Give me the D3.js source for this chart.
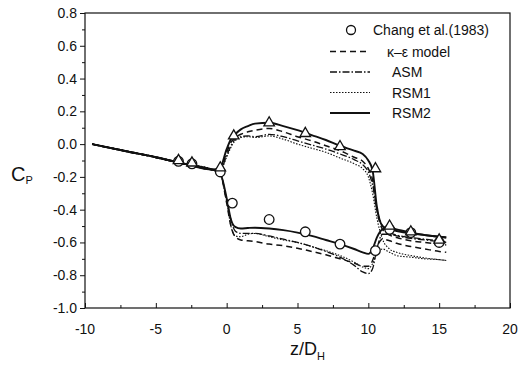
<!DOCTYPE html>
<html><head><meta charset="utf-8">
<script src="https://cdn.jsdelivr.net/npm/d3@7"></script>
<style>body{margin:0;background:#fff}svg{display:block}text{font-family:Arial,"Liberation Sans",sans-serif;fill:#111}</style>
</head><body><svg id="c" width="530" height="373"></svg>
<script>
// ---- data ----
const z = [-9.5,-7,-5,-3,-1,-0.5,0,0.3,0.6,1,1.5,2,3,4,5,6,7,8,9,9.6,10,10.3,10.6,11,11.5,12,13,14,15,15.5];
const rsm2Upper = [0,-0.045,-0.08,-0.12,-0.155,-0.15,-0.03,0.03,0.06,0.09,0.11,0.125,0.13,0.11,0.085,0.055,0.025,-0.01,-0.04,-0.06,-0.1,-0.16,-0.38,-0.5,-0.52,-0.53,-0.545,-0.555,-0.565,-0.57];
const rsm2Lower = [0,-0.045,-0.08,-0.12,-0.155,-0.17,-0.33,-0.46,-0.505,-0.515,-0.512,-0.51,-0.515,-0.525,-0.54,-0.56,-0.585,-0.61,-0.64,-0.66,-0.67,-0.64,-0.57,-0.52,-0.51,-0.52,-0.54,-0.555,-0.565,-0.57];
const keUpper = [0,-0.045,-0.08,-0.12,-0.157,-0.16,-0.05,0.01,0.04,0.06,0.075,0.085,0.095,0.075,0.045,0.02,-0.01,-0.04,-0.08,-0.105,-0.15,-0.22,-0.4,-0.52,-0.555,-0.57,-0.59,-0.6,-0.61,-0.615];
const keLower = [0,-0.045,-0.08,-0.12,-0.157,-0.17,-0.36,-0.5,-0.565,-0.585,-0.59,-0.595,-0.61,-0.62,-0.635,-0.655,-0.675,-0.7,-0.725,-0.745,-0.745,-0.71,-0.63,-0.58,-0.59,-0.605,-0.625,-0.64,-0.655,-0.66];
const asmUpper = [0,-0.045,-0.082,-0.122,-0.158,-0.165,-0.07,-0.01,0.03,0.045,0.05,0.045,0.06,0.045,0.02,-0.005,-0.03,-0.06,-0.095,-0.125,-0.17,-0.25,-0.4,-0.5,-0.54,-0.555,-0.57,-0.58,-0.59,-0.595];
const asmLower = [0,-0.045,-0.082,-0.122,-0.158,-0.17,-0.34,-0.46,-0.53,-0.545,-0.545,-0.545,-0.56,-0.58,-0.6,-0.625,-0.655,-0.69,-0.74,-0.78,-0.79,-0.76,-0.64,-0.55,-0.55,-0.56,-0.575,-0.585,-0.595,-0.6];
const rsm1Upper = [0,-0.043,-0.078,-0.118,-0.153,-0.165,-0.08,-0.02,0.02,0.04,0.045,0.04,0.05,0.03,0.0,-0.025,-0.05,-0.085,-0.12,-0.15,-0.2,-0.3,-0.45,-0.58,-0.64,-0.66,-0.68,-0.695,-0.705,-0.71];
const rsm1Lower = [0,-0.043,-0.078,-0.118,-0.153,-0.17,-0.35,-0.5,-0.56,-0.565,-0.55,-0.545,-0.565,-0.585,-0.6,-0.625,-0.65,-0.68,-0.72,-0.75,-0.76,-0.73,-0.67,-0.64,-0.66,-0.68,-0.69,-0.7,-0.705,-0.71];
const circZ  = [-3.4,-2.45,-0.45,0.4,3.0,5.55,8.0,10.5,11.5,13,15];
const circCp = [-0.105,-0.12,-0.17,-0.36,-0.46,-0.535,-0.61,-0.65,-0.52,-0.54,-0.6];
const triZ  = [-3.4,-2.45,-0.45,0.5,3.0,5.55,8.0,10.5,11.5,13,15];
const triCp = [-0.1,-0.115,-0.145,0.05,0.13,0.065,-0.015,-0.15,-0.5,-0.535,-0.585];
const xTicks = [-10,-5,0,5,10,15,20];
const yTicks = [0.8,0.6,0.4,0.2,0.0,-0.2,-0.4,-0.6,-0.8,-1.0];
const legendLabels = ["Chang et al.(1983)","\u03BA\u2013\u03B5 model","ASM","RSM1","RSM2"];

// ---- chart ----
const svg = d3.select("#c");
const L=85,R=510,T=13,B=308;
const x = d3.scaleLinear().domain([-10,20]).range([L,R]);
const y = d3.scaleLinear().domain([-1,0.8]).range([B,T]);
const ink="#111";

// frame
svg.append("rect").attr("x",L).attr("y",T).attr("width",R-L).attr("height",B-T)
  .attr("fill","none").attr("stroke",ink).attr("stroke-width",1.2);

// x axis (ticks inward)
const xa = svg.append("g").attr("transform",`translate(0,${B})`)
  .call(d3.axisBottom(x).tickValues(d3.range(-10,20.01,2.5)).tickSize(-5).tickFormat(""));
xa.select(".domain").remove();
xa.selectAll("line").attr("stroke",ink);
xa.selectAll(".tick line").filter(d=>d%5!==0).attr("y2",-3);
svg.selectAll(".xl").data(xTicks).enter().append("text")
  .attr("x",d=>x(d)).attr("y",B+26).attr("text-anchor","middle")
  .attr("font-size",14).text(d=>d);

// y axis (ticks outward)
const ya = svg.append("g").attr("transform",`translate(${L},0)`)
  .call(d3.axisLeft(y).tickValues(d3.range(-1,0.801,0.1)).tickSize(5).tickFormat(""));
ya.select(".domain").remove();
ya.selectAll("line").attr("stroke",ink);
ya.selectAll(".tick line").filter(d=>Math.abs(Math.round(d*10))%2===1).attr("x2",-3);
svg.selectAll(".yl").data(yTicks).enter().append("text")
  .attr("x",L-8).attr("y",d=>y(d)+5).attr("text-anchor","end")
  .attr("font-size",14).text(d=>d.toFixed(1));

// axis titles
const yt = svg.append("text").attr("x",11).attr("y",181).attr("font-size",20);
yt.append("tspan").text("C");
yt.append("tspan").attr("font-size",11).attr("dy",3).text("P");
const xt = svg.append("text").attr("x",290).attr("y",355).attr("font-size",18);
xt.append("tspan").text("z/D");
xt.append("tspan").attr("font-size",11).attr("dy",5).text("H");

// lines
const styles = {
  ke:  {dash:"6,4", w:1.5},
  asm: {dash:"7,2,1.5,2", w:1.3},
  rsm1:{dash:"1.5,1.5", w:1.1},
  rsm2:{dash:null, w:1.9}
};
const series = [
  ["rsm1",rsm1Upper],["rsm1",rsm1Lower],
  ["asm",asmUpper],["asm",asmLower],
  ["ke",keUpper],["ke",keLower],
  ["rsm2",rsm2Upper],["rsm2",rsm2Lower]
];
const line = d3.line().x((d,i)=>x(z[i])).y(d=>y(d)).curve(d3.curveMonotoneX);
series.forEach(([k,vals])=>{
  svg.append("path").datum(vals).attr("d",line).attr("fill","none")
    .attr("stroke",ink).attr("stroke-width",styles[k].w)
    .attr("stroke-dasharray",styles[k].dash);
});

// markers
svg.selectAll(".circ").data(circZ).enter().append("circle")
  .attr("cx",d=>x(d)).attr("cy",(d,i)=>y(circCp[i])).attr("r",4.8)
  .attr("fill","#fff").attr("stroke",ink).attr("stroke-width",1.3);
const tri = d3.symbol().type(d3.symbolTriangle).size(48);
svg.selectAll(".tri").data(triZ).enter().append("path")
  .attr("d",tri).attr("transform",(d,i)=>`translate(${x(d)},${y(triCp[i])})`)
  .attr("fill","#fff").attr("stroke",ink).attr("stroke-width",1.3);

// legend
const ly=[30,51.5,72,92.5,113];
const lx=[373,387,392,392,392];
svg.append("circle").attr("cx",351).attr("cy",ly[0]).attr("r",4.5)
  .attr("fill","#fff").attr("stroke",ink).attr("stroke-width",1.3);
const legKeys=["ke","asm","rsm1","rsm2"];
legKeys.forEach((k,i)=>{
  svg.append("line").attr("x1",330).attr("x2",370).attr("y1",ly[i+1]).attr("y2",ly[i+1])
    .attr("stroke",ink).attr("stroke-width",styles[k].w).attr("stroke-dasharray",styles[k].dash);
});
legendLabels.forEach((t,i)=>{
  svg.append("text").attr("x",lx[i]).attr("y",ly[i]+5).attr("font-size",14).text(t);
});
</script></body></html>
